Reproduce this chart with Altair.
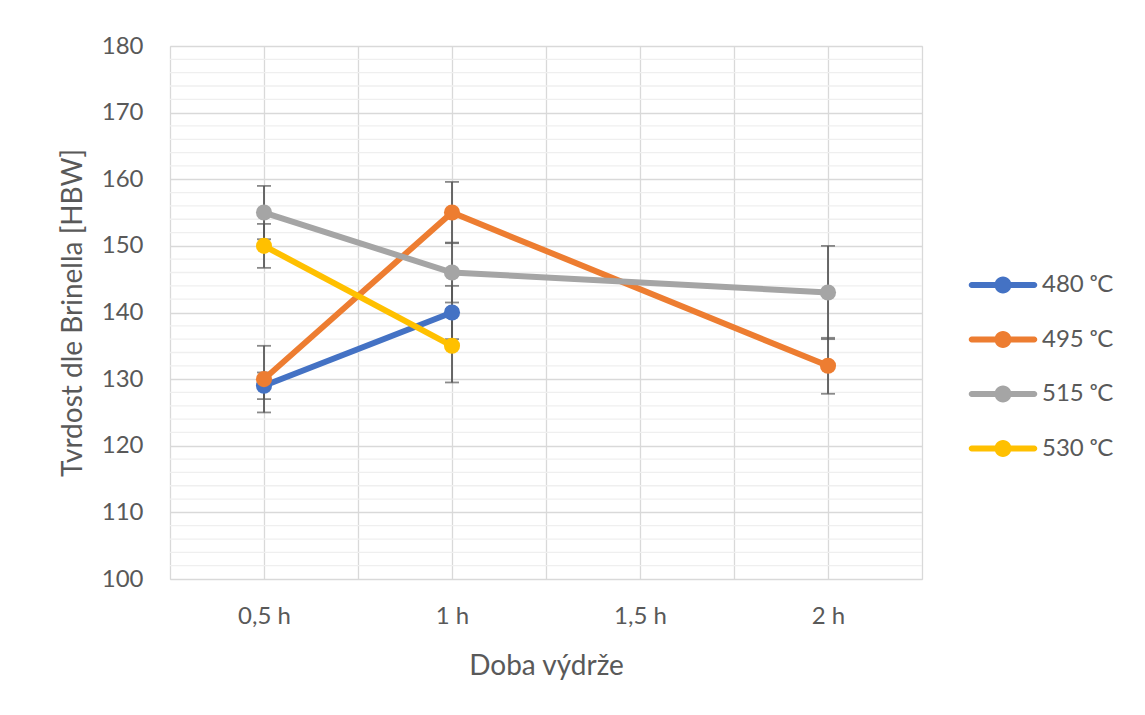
import json
import altair as alt
import pandas as pd

# ---- data ----
categories = ["0,5 h", "1 h", "1,5 h", "2 h"]
series_names = ["480 ᵒC", "495 ᵒC", "515 ᵒC", "530 ᵒC"]
series_colors = ["#4472C4", "#ED7D31", "#A5A5A5", "#FFC000"]

s480_time = ["0,5 h", "1 h"]
s480_val = [129, 140]
s480_err = [2, 4]

s495_time = ["0,5 h", "1 h", "2 h"]
s495_val = [130, 155, 132]
s495_err = [5, 4.6, 4.2]

s515_time = ["0,5 h", "1 h", "2 h"]
s515_val = [155, 146, 143]
s515_err = [4, 4.5, 7]

s530_time = ["0,5 h", "1 h"]
s530_val = [150, 135]
s530_err = [3.3, 5.5]

y_major = [100, 110, 120, 130, 140, 150, 160, 170, 180]
y_minor = [v for v in range(100, 181, 2) if v % 10 != 0]

# ---- table ----
rows = []
for k, (name, times, vals, errs) in enumerate([
    (series_names[0], s480_time, s480_val, s480_err),
    (series_names[1], s495_time, s495_val, s495_err),
    (series_names[2], s515_time, s515_val, s515_err),
    (series_names[3], s530_time, s530_val, s530_err),
]):
    for t, v, e in zip(times, vals, errs):
        rows.append({
            "series": name,
            "series_no": k,
            "time": t,
            "idx": categories.index(t),
            "value": v,
            "lo": v - e,
            "hi": v + e,
        })
df = pd.DataFrame(rows)
minor_df = pd.DataFrame({"y": y_minor})

FONT = "Lato"
TXT = "#595959"
GRID = "#d9d9d9"

x_values = [i * 0.5 - 0.5 for i in range(2 * len(categories) + 1)]
label_expr = ("datum.value % 1 === 0 ? " + json.dumps(categories) +
              "[datum.value] : ''")

x_scale = alt.Scale(domain=[-0.5, len(categories) - 0.5], nice=False, zero=False)
y_scale = alt.Scale(domain=[100, 180], nice=False, zero=False)

x_enc = alt.X(
    "idx:Q", scale=x_scale, title="Doba výdrže",
    axis=alt.Axis(values=x_values, labelExpr=label_expr, grid=True,
                  gridColor=GRID, gridWidth=1.3, domain=False, ticks=False,
                  labelFont=FONT, labelFontSize=24, labelColor=TXT,
                  labelPadding=25, labelFlush=False,
                  titleFont=FONT, titleFontSize=28, titleFontWeight="normal",
                  titleColor=TXT, titleY=87, titleBaseline="middle"),
)

minor = alt.Chart(minor_df).mark_rule(color="#efefef", strokeWidth=1.3).encode(
    y=alt.Y("y:Q", scale=y_scale,
            title="Tvrdost dle Brinella [HBW]",
            axis=alt.Axis(values=y_major, grid=True, gridColor=GRID,
                          gridWidth=1.3, domain=False, ticks=False,
                          labelFont=FONT, labelFontSize=24, labelColor=TXT,
                          labelPadding=27,
                          titleFont=FONT, titleFontSize=28,
                          titleFontWeight="normal", titleColor=TXT,
                          titleX=-97, titleY=266.5, titleAngle=-90,
                          titleAlign="center", titleBaseline="middle")),
)

base = alt.Chart(df)
color_scale = alt.Scale(domain=series_names, range=series_colors)
# line colours: same colours, keyed by series number (separate scale, no legend)
line_scale = alt.Scale(range=series_colors)

err_rule = base.mark_rule(color="#595959", strokeWidth=1.8).encode(
    x=x_enc,
    y=alt.Y("lo:Q", scale=y_scale),
    y2="hi:Q",
)
cap_lo = base.mark_tick(color="#595959", orient="horizontal", size=14,
                        thickness=1.8).encode(
    x=alt.X("idx:Q", scale=x_scale), y=alt.Y("lo:Q", scale=y_scale))
cap_hi = base.mark_tick(color="#595959", orient="horizontal", size=14,
                        thickness=1.8).encode(
    x=alt.X("idx:Q", scale=x_scale), y=alt.Y("hi:Q", scale=y_scale))

lines = base.mark_line(strokeWidth=6).encode(
    x=alt.X("idx:Q", scale=x_scale),
    y=alt.Y("value:Q", scale=y_scale),
    stroke=alt.Stroke("series_no:N", scale=line_scale, legend=None),
    order="idx:Q",
)

sym = ("M-0.92,-0.088 L0.92,-0.088 A0.088,0.088 0 0,1 0.92,0.088 "
       "L-0.92,0.088 A0.088,0.088 0 0,1 -0.92,-0.088 Z "
       "M-0.25,0 A0.25,0.25 0 1,1 0.25,0 A0.25,0.25 0 1,1 -0.25,0 Z")

points = base.mark_point(filled=True, size=260, opacity=1).encode(
    x=alt.X("idx:Q", scale=x_scale),
    y=alt.Y("value:Q", scale=y_scale),
    color=alt.Color(
        "series:N", scale=color_scale,
        legend=alt.Legend(title=None, orient="none", legendX=799, legendY=205,
                          symbolType=sym, symbolSize=4624, symbolStrokeWidth=0,
                          symbolOpacity=1, labelFont=FONT, labelFontSize=24,
                          labelColor=TXT, labelOffset=5, rowPadding=8.5,
                          padding=0),
    ),
)

chart = alt.layer(minor, err_rule, cap_lo, cap_hi, lines, points).properties(
    width=752, height=533,
    autosize=alt.AutoSizeParams(type="none"),
    padding={"left": 162, "top": 38, "right": 200, "bottom": 110},
).configure_view(stroke=GRID, strokeWidth=1.3).configure(background="white")

chart.save("out.html", embed_options={"renderer": "svg", "actions": False})
